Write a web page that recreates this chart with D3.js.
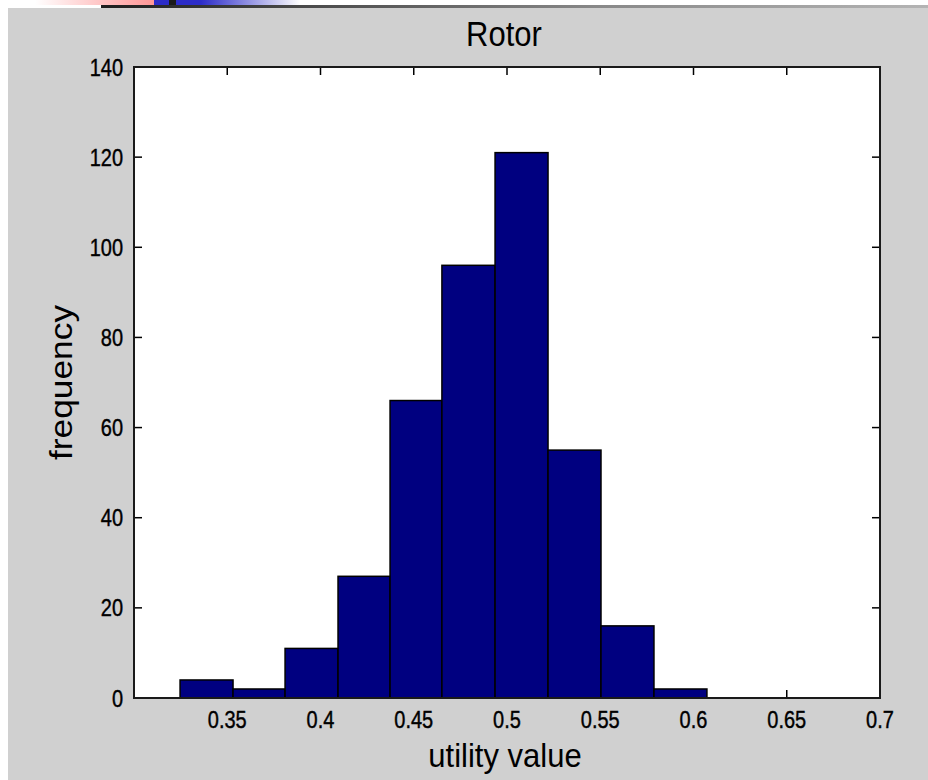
<!DOCTYPE html>
<html>
<head>
<meta charset="utf-8">
<script src="https://cdn.jsdelivr.net/npm/d3@7"></script>
<style>
  html, body { margin: 0; padding: 0; background: #fff; }
  svg { display: block; }
  text { font-family: Arial, "Liberation Sans", sans-serif; fill: #000; }
</style>
</head>
<body>
<div id="chart"></div>
<script>
// histogram data
const binEdges = [0.3247, 0.3531, 0.3810, 0.4094, 0.4373, 0.4651, 0.4936, 0.5220, 0.5504, 0.5788, 0.6072];
const counts = [4, 2, 11, 27, 66, 96, 121, 55, 16, 2];
const xTicks = [0.35, 0.4, 0.45, 0.5, 0.55, 0.6, 0.65, 0.7];
const yTicks = [0, 20, 40, 60, 80, 100, 120, 140];

const W = 928, H = 780;
const plot = { left: 134, right: 880, top: 67, bottom: 698 };

const svg = d3.select("#chart").append("svg")
  .attr("width", W).attr("height", H);

// slide background + top decoration strip
const defs = svg.append("defs");
const gPink = defs.append("linearGradient").attr("id", "gPink");
gPink.append("stop").attr("offset", "0%").attr("stop-color", "#ffffff");
gPink.append("stop").attr("offset", "100%").attr("stop-color", "#ff9696");
const gBlue = defs.append("linearGradient").attr("id", "gBlue");
gBlue.append("stop").attr("offset", "0%").attr("stop-color", "#2c2cc8");
gBlue.append("stop").attr("offset", "20%").attr("stop-color", "#2c2cc8");
gBlue.append("stop").attr("offset", "100%").attr("stop-color", "#ffffff");
const gDark = defs.append("linearGradient").attr("id", "gDark");
gDark.append("stop").attr("offset", "0%").attr("stop-color", "#1e1e1e");
gDark.append("stop").attr("offset", "60%").attr("stop-color", "#888888");
gDark.append("stop").attr("offset", "100%").attr("stop-color", "#b4b4b4");

svg.append("rect").attr("x", 35).attr("y", 0).attr("width", 119).attr("height", 5).attr("fill", "url(#gPink)");
svg.append("rect").attr("x", 154).attr("y", 0).attr("width", 15).attr("height", 5).attr("fill", "#2c2cc8");
svg.append("rect").attr("x", 169).attr("y", 0).attr("width", 7).attr("height", 8).attr("fill", "#1a1a1a");
svg.append("rect").attr("x", 176).attr("y", 0).attr("width", 124).attr("height", 5).attr("fill", "url(#gBlue)");
svg.append("rect").attr("x", 101).attr("y", 5).attr("width", W - 101).attr("height", 3).attr("fill", "url(#gDark)");
svg.append("rect").attr("x", 8).attr("y", 8).attr("width", W - 8).attr("height", H - 8).attr("fill", "#d0d0d0");

// scales
const x = d3.scaleLinear().domain([0.3, 0.7]).range([plot.left, plot.right]);
const y = d3.scaleLinear().domain([0, 140]).range([plot.bottom, plot.top]);

// axes box
svg.append("rect")
  .attr("x", plot.left).attr("y", plot.top)
  .attr("width", plot.right - plot.left).attr("height", plot.bottom - plot.top)
  .attr("fill", "#fff");

const tickLen = 8;
const ticks = svg.append("g").attr("stroke", "#000").attr("stroke-width", 1.5);
xTicks.forEach(t => {
  ticks.append("line").attr("x1", x(t)).attr("x2", x(t)).attr("y1", plot.bottom).attr("y2", plot.bottom - tickLen);
  ticks.append("line").attr("x1", x(t)).attr("x2", x(t)).attr("y1", plot.top).attr("y2", plot.top + tickLen);
});
yTicks.forEach(t => {
  ticks.append("line").attr("x1", plot.left).attr("x2", plot.left + tickLen).attr("y1", y(t)).attr("y2", y(t));
  ticks.append("line").attr("x1", plot.right).attr("x2", plot.right - tickLen).attr("y1", y(t)).attr("y2", y(t));
});

// bars
svg.append("g").selectAll("rect")
  .data(counts)
  .join("rect")
  .attr("x", (d, i) => x(binEdges[i]))
  .attr("y", d => y(d))
  .attr("width", (d, i) => x(binEdges[i + 1]) - x(binEdges[i]))
  .attr("height", d => y(0) - y(d))
  .attr("fill", "#000080")
  .attr("stroke", "#000")
  .attr("stroke-width", 1.5);

// frame on top
svg.append("rect")
  .attr("x", plot.left).attr("y", plot.top)
  .attr("width", plot.right - plot.left).attr("height", plot.bottom - plot.top)
  .attr("fill", "none").attr("stroke", "#1a1a1a").attr("stroke-width", 2);

// tick labels (the screenshot is slightly stretched vertically)
const sy = 1.2;
const xl = svg.append("g");
xTicks.forEach(t => {
  xl.append("text")
    .attr("transform", `translate(${x(t)},728) scale(1,${sy})`)
    .attr("text-anchor", "middle")
    .attr("font-size", 20)
    .attr("stroke", "#000").attr("stroke-width", 0.35)
    .text(d3.format("")(t));
});
const yl = svg.append("g");
yTicks.forEach(t => {
  yl.append("text")
    .attr("transform", `translate(123,${y(t) + 8.5}) scale(1,${sy})`)
    .attr("text-anchor", "end")
    .attr("font-size", 20)
    .attr("stroke", "#000").attr("stroke-width", 0.35)
    .text(t);
});

// title and axis labels
svg.append("text")
  .attr("transform", `translate(${(plot.left + plot.right) / 2 - 3},46) scale(1,1.15)`)
  .attr("text-anchor", "middle")
  .attr("font-size", 31)
  .text("Rotor");

svg.append("text")
  .attr("transform", `translate(${(plot.left + plot.right) / 2 - 2},767) scale(1,1.08)`)
  .attr("text-anchor", "middle")
  .attr("font-size", 31)
  .text("utility value");

svg.append("text")
  .attr("transform", `translate(72,${(plot.top + plot.bottom) / 2}) rotate(-90) scale(1.14,1)`)
  .attr("text-anchor", "middle")
  .attr("font-size", 31)
  .text("frequency");
</script>
</body>
</html>
